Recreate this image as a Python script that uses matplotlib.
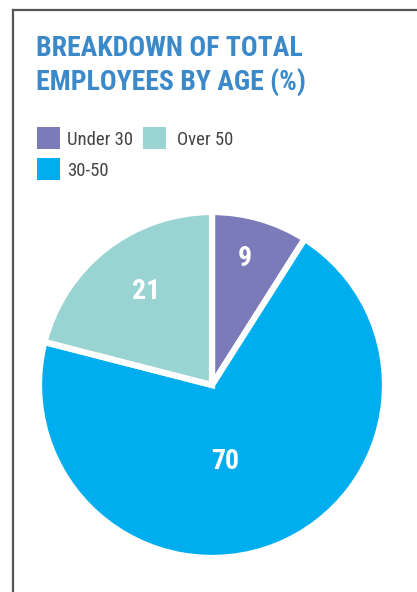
import matplotlib
matplotlib.use("Agg")
import matplotlib.pyplot as plt
from matplotlib.patches import Rectangle
from matplotlib.lines import Line2D
import numpy as np
import matplotlib.font_manager as fm

categories = ["Under 30", "30-50", "Over 50"]
values = [9, 70, 21]
colors = ["#7A7BB8", "#00AEEF", "#99D4D2"]
title_lines = ["BREAKDOWN OF TOTAL", "EMPLOYEES BY AGE (%)"]

names = {f.name for f in fm.fontManager.ttflist}
cond = next((n for n in ["Roboto Condensed", "Archivo Narrow", "Barlow Condensed",
                         "Liberation Sans Narrow", "Roboto"] if n in names), "DejaVu Sans")

W, H = 417, 592
fig = plt.figure(figsize=(W / 100, H / 100), dpi=100)
fig.patch.set_facecolor("white")

def fx(x): return x / W
def fy(y): return 1 - y / H

# frame lines
fig.add_artist(Line2D([fx(13), fx(13)], [fy(10), fy(592)], color="#555555", lw=1.6))
fig.add_artist(Line2D([fx(13), fx(417)], [fy(10), fy(10)], color="#555555", lw=1.6))

for line, base in zip(title_lines, [56, 90]):
    fig.text(fx(36), fy(base), line, family=cond, weight="bold", fontsize=20,
             color="#3B89C9", va="baseline", ha="left")

# legend (manual layout)
leg_pos = {"Under 30": (37, 127, 67), "Over 50": (143, 127, 177), "30-50": (37, 158, 67)}
for cat, col in zip(categories, colors):
    x0, y0, tx = leg_pos[cat]
    fig.add_artist(Rectangle((fx(x0), fy(y0 + 22)), 23 / W, 22 / H,
                             transform=fig.transFigure, color=col, lw=0))
    fig.text(fx(tx), fy(y0 + 18.5), cat, family=cond, fontsize=13.5,
             color="#444444", va="baseline", ha="left")

cx, cy, r = 212, 385, 173
ax = fig.add_axes([fx(cx - r), fy(cy + r), 2 * r / W, 2 * r / H])
wedges, _ = ax.pie(values, colors=colors, startangle=90, counterclock=False,
                   wedgeprops=dict(edgecolor="white", linewidth=4.5))
ax.set_xlim(-1.0, 1.0)
ax.set_ylim(-1.0, 1.0)
ax.set_aspect("equal")
ax.axis("off")

label_r = [0.756, 0.45, 0.66]
label_da = [1.7, -12, -2.4]
for w, v, lr, da in zip(wedges, values, label_r, label_da):
    ang = np.deg2rad((w.theta1 + w.theta2) / 2 + da)
    ax.text(lr * np.cos(ang), lr * np.sin(ang), str(v), ha="center", va="center",
            color="white", fontsize=20, weight="bold", family=cond)

fig.savefig("out.png", dpi=100, facecolor="white")
